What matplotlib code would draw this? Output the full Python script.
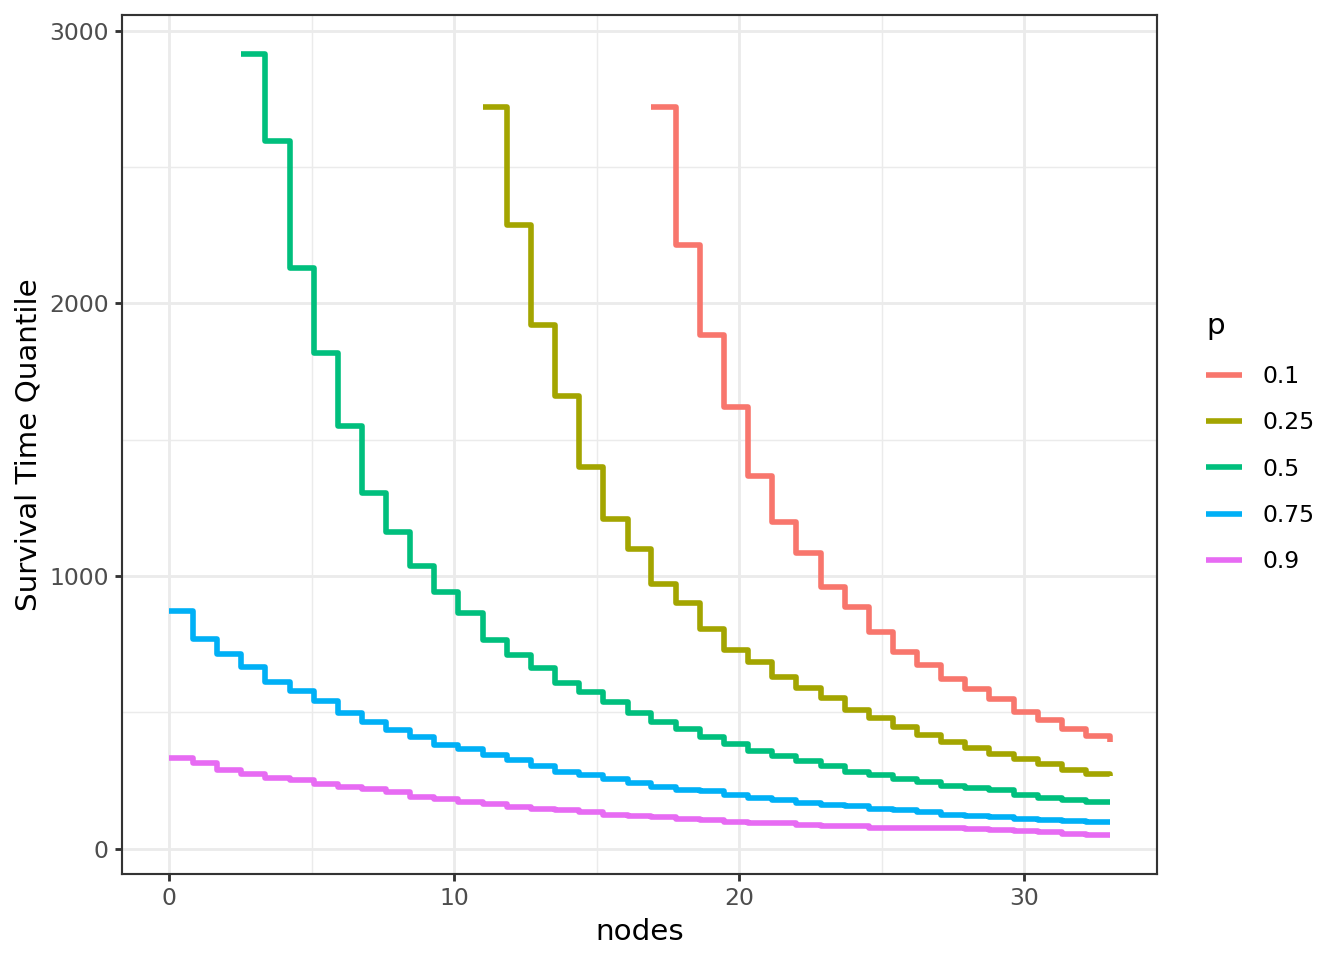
import numpy as np
import matplotlib
matplotlib.use("Agg")
import matplotlib.pyplot as plt

nodes = [0, 0.85, 1.69, 2.54, 3.38, 4.23, 5.08, 5.92, 6.77, 7.62, 8.46, 9.31,
         10.15, 11.0, 11.85, 12.69, 13.54, 14.38, 15.23, 16.08, 16.92, 17.77,
         18.62, 19.46, 20.31, 21.15, 22.0, 22.85, 23.69, 24.54, 25.38, 26.23,
         27.08, 27.92, 28.77, 29.62, 30.46, 31.31, 32.15, 33.0]

p_labels = ["0.1", "0.25", "0.5", "0.75", "0.9"]
colors = ["#F8766D", "#A3A500", "#00BF7D", "#00B0F6", "#E76BF3"]

nan = np.nan
q_010 = [nan] * 20 + [2722, 2216, 1886, 1620, 1366, 1199, 1083, 961, 888, 796,
                      723, 674, 621, 586, 548, 503, 473, 440, 414, 393]
q_025 = [nan] * 13 + [2722, 2288, 1922, 1659, 1400, 1211, 1101, 969, 900, 805,
                      729, 683, 629, 591, 554, 509, 479, 446, 418, 391, 369,
                      348, 328, 310, 287, 274, 267]
q_050 = [nan] * 3 + [2915, 2597, 2129, 1819, 1549, 1303, 1160, 1037, 940, 863,
                     766, 711, 662, 607, 576, 537, 497, 464, 438, 411, 383, 360,
                     341, 322, 302, 282, 270, 255, 243, 231, 221, 214, 198, 184,
                     177, 171, 171]
q_075 = [873, 769, 715, 668, 613, 579, 541, 498, 464, 437, 411, 381, 364, 342,
         326, 302, 282, 270, 255, 241, 225, 216, 210, 198, 186, 177, 167, 159,
         155, 145, 143, 134, 125, 118, 115, 110, 106, 100, 96, 96]
q_090 = [331, 314, 289, 275, 260, 250, 237, 226, 219, 206, 189, 182, 172, 164,
         153, 145, 140, 134, 125, 118, 115, 110, 106, 99, 95, 94, 88, 84, 82, 77,
         77, 76, 75, 72, 67, 63, 60, 55, 50, 50]

series = [q_010, q_025, q_050, q_075, q_090]

fig = plt.figure(figsize=(7, 5), dpi=192)
ax = fig.add_axes([122 / 1344, 1 - 874 / 960, (1157 - 122) / 1344, (874 - 15) / 960])

x = np.array(nodes)
for vals, col, lab in zip(series, colors, p_labels):
    y = np.array(vals, dtype=float)
    m = ~np.isnan(y)
    ax.step(x[m], y[m], where="post", color=col, lw=2.1, label=lab,
            solid_joinstyle="round", solid_capstyle="butt")

ax.set_xlim(-1.65, 34.65)
ax.set_ylim(-93, 3058)
ax.set_xticks([0, 10, 20, 30])
ax.set_xticks([5, 15, 25], minor=True)
ax.set_yticks([0, 1000, 2000, 3000])
ax.set_yticks([500, 1500, 2500], minor=True)
ax.grid(which="major", color="#EBEBEB", lw=1.07)
ax.grid(which="minor", color="#EBEBEB", lw=0.53)
ax.set_axisbelow(True)
for s in ax.spines.values():
    s.set_color("#333333")
    s.set_linewidth(0.8)
ax.tick_params(which="major", length=2.75, width=1.07, color="#333333",
               labelsize=8.8, labelcolor="#4D4D4D", pad=2.2)
ax.tick_params(which="minor", length=0)
ax.set_xlabel("nodes", fontsize=11, color="black", labelpad=3)
ax.set_ylabel("Survival Time Quantile", fontsize=11, color="black", labelpad=2.5)

leg = fig.legend(loc="upper left", bbox_to_anchor=(1206 / 1344, 1 - 312 / 960),
                 frameon=False, title="p", fontsize=8.8, title_fontsize=11,
                 handlelength=1.55, handletextpad=0.85, labelspacing=0.99,
                 alignment="left", borderaxespad=0, borderpad=0)
# shift entries slightly relative to title
leg._legend_box.sep = 0.99 * 8.8 * 192 / 72 / (192 / 72) + 0.75

fig.savefig("out.png", dpi=192, facecolor="white")
